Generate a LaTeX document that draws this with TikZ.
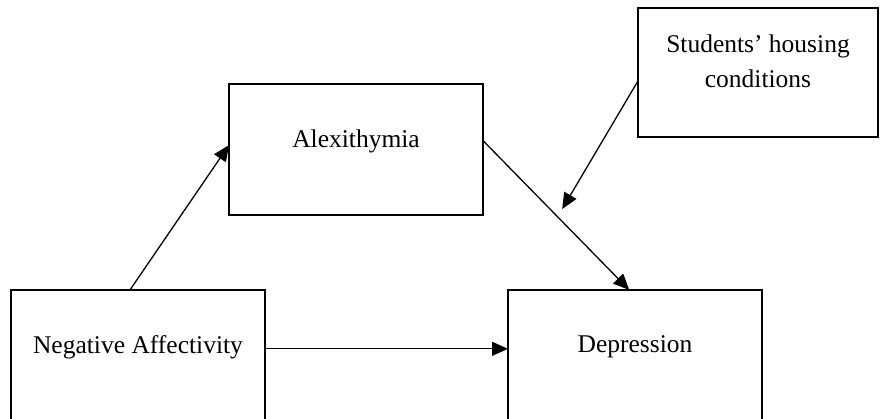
\documentclass[tikz,border=0pt]{standalone}
\usepackage{fontspec}
\setmainfont{Liberation Serif}
\usetikzlibrary{arrows.meta,positioning}

\begin{document}
\begin{tikzpicture}[x=1pt,y=1pt, node distance=75pt and 243pt, every node/.style={font=\fontsize{25.5}{35}\selectfont}, box/.style={draw,line width=2.8pt,outer sep=0pt,inner sep=0pt,minimum width=254pt,minimum height=131pt,align=center,text depth=22pt}, arr/.style={-{Triangle[length=16pt,width=14pt]},line width=1.3pt}]
\useasboundingbox (0,0) rectangle (882,418);
\clip (0,0) rectangle (882,418);
\node[box] (neg) at (138,62.5) {Negative Affectivity};
\node[box,right=of neg] (dep) {Depression};
\node[box,above=of neg,xshift=218pt] (alex) {Alexithymia};
\node[box,minimum width=240pt,minimum height=129pt,right=155pt of alex,yshift=77pt] (house) {Students’ housing\\conditions};
\draw[arr] (neg.97)--(alex.178);
\draw[arr] (alex.4)--coordinate[pos=0.51] (mod) (dep.95);
\draw[arr,shorten >=9pt] (house.184)--(mod);
\draw[arr] (neg.3)--(neg.3 -| dep.west);
\end{tikzpicture}
\end{document}
